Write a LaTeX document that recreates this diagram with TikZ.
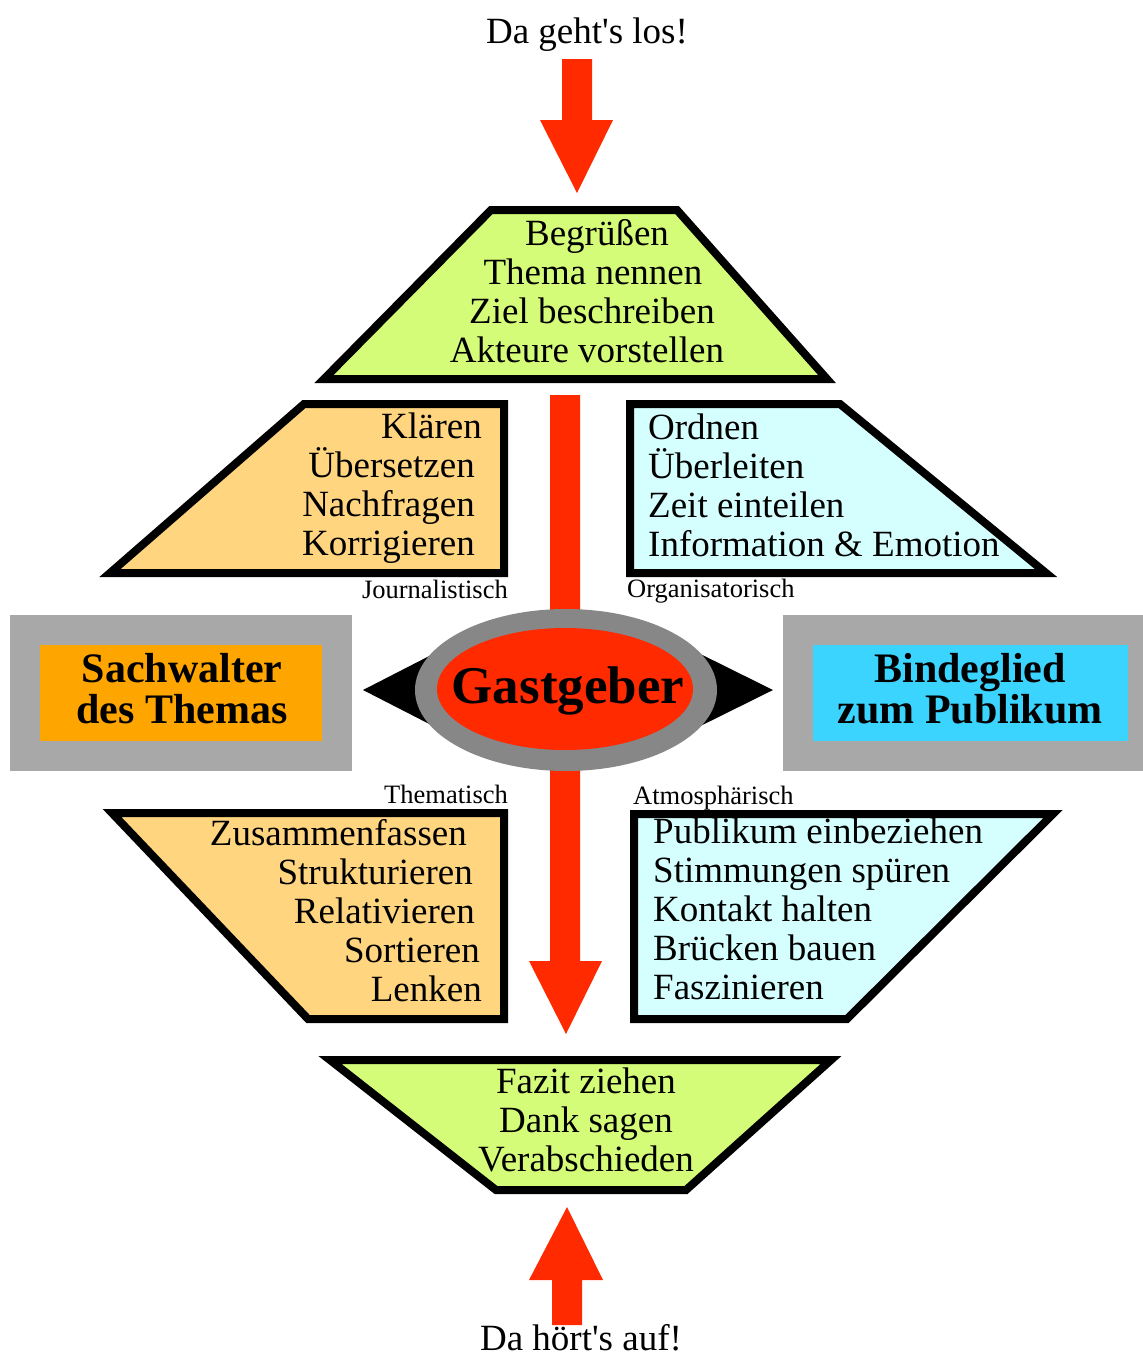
\documentclass[tikz,border=0pt]{standalone}
\usepackage{fontspec}
\setmainfont{Liberation Serif}
\definecolor{cLime}{HTML}{D5FC79}
\definecolor{cPeach}{HTML}{FFD57F}
\definecolor{cIce}{HTML}{D5FFFF}
\definecolor{cRed}{HTML}{FF2A00}
\definecolor{cEllGray}{HTML}{878787}
\definecolor{cBoxGray}{HTML}{A8A8A8}
\definecolor{cOrange}{HTML}{FFA500}
\definecolor{cBlue}{HTML}{3BD4FF}
\newcommand\rlines[1]{\vtop{\halign{\hfil##\cr#1\crcr}}}
\newcommand\llines[1]{\vtop{\halign{##\hfil\cr#1\crcr}}}
\newcommand\clines[1]{\vtop{\halign{\hfil##\hfil\cr#1\crcr}}}
\begin{document}
\begin{tikzpicture}[x=1pt,y=-1pt,
  trap/.style={draw=black,line width=8pt,line join=miter},
  blockarrow/.style={fill=cRed,draw=none},
  body/.style={font=\fontsize{37}{39}\selectfont,inner sep=0pt},
  small/.style={font=\fontsize{26.5}{30}\selectfont,inner sep=0pt},
  boldlbl/.style={font=\fontsize{42}{41}\selectfont\bfseries,inner sep=0pt},
  centre/.style={font=\fontsize{53}{60}\selectfont\bfseries,inner sep=0pt}]
\useasboundingbox (0,0) rectangle (1143,1358);

% block arrows
\fill[blockarrow] (562,59) -- (592,59) -- (592,120) -- (613,120) -- (577,193) -- (540,120) -- (562,120) -- cycle;
\fill[blockarrow] (550,395) -- (580,395) -- (580,961) -- (602,961) -- (566,1034) -- (529,961) -- (550,961) -- cycle;
\fill[blockarrow] (567,1207) -- (603,1280) -- (582,1280) -- (582,1325) -- (552,1325) -- (552,1280) -- (529,1280) -- cycle;

% trapezoids
\draw[trap,fill=cLime] (491,210) -- (677,210) -- (827,379) -- (324,379) -- cycle;
\draw[trap,fill=cPeach] (304,404) -- (504,404) -- (504,573) -- (110,573) -- cycle;
\draw[trap,fill=cIce] (630,404) -- (840,404) -- (1046,573) -- (630,573) -- cycle;
\draw[trap,fill=cPeach] (112,813) -- (504,813) -- (504,1019) -- (308,1019) -- cycle;
\draw[trap,fill=cIce] (634,814) -- (1053,814) -- (847,1019) -- (634,1019) -- cycle;
\draw[trap,fill=cLime] (330,1060) -- (831,1060) -- (686,1190) -- (496,1190) -- cycle;

% side boxes
\fill[cBoxGray] (10,615) rectangle (352,771);
\fill[cOrange] (40,645) rectangle (322,741);
\fill[cBoxGray] (783,615) rectangle (1143,771);
\fill[cBlue] (813,645) rectangle (1128,741);

% centre
\fill[black] (363,690) -- (480,630) -- (652,630) -- (773,690) -- (652,750) -- (480,750) -- cycle;
\fill[cEllGray] (566,690) ellipse [x radius=151, y radius=81];
\fill[cRed] (565,689) ellipse [x radius=128, y radius=61];

% texts
\node[body,anchor=base] (start) at (587,43) {Da geht\textquotesingle s los!};
\node[body,anchor=base] (stop) at (581,1350) {Da hört\textquotesingle s auf!};
\node[body,anchor=base] (opening) at (592,245) {\clines{\kern10pt Begrüßen\cr \kern2pt Thema nennen\cr Ziel beschreiben\cr Akteure vorstellen\kern10pt}};
\node[body,anchor=base east] (journ) at (482,438) {\rlines{Klären\cr Übersetzen\kern7pt\cr Nachfragen\kern7pt\cr Korrigieren\kern7pt}};
\node[body,anchor=base west] (orga) at (648,439) {\llines{Ordnen\cr Überleiten\cr Zeit einteilen\cr Information \& Emotion}};
\node[body,anchor=base east] (them) at (482,845) {\rlines{Zusammenfassen\kern15pt\cr Strukturieren\kern9pt\cr Relativieren\kern7pt\cr Sortieren\kern2pt\cr Lenken}};
\node[body,anchor=base west] (atmo) at (653,843) {\llines{Publikum einbeziehen\cr Stimmungen spüren\cr Kontakt halten\cr Brücken bauen\cr Faszinieren}};
\node[body,anchor=base] (closing) at (586,1093) {\clines{Fazit ziehen\cr Dank sagen\cr Verabschieden}};

\node[small,anchor=base east] (ljourn) at (508,598) {Journalistisch};
\node[small,anchor=base west] (lorga) at (627,597) {Organisatorisch};
\node[small,anchor=base east] (lthem) at (508,803) {Thematisch};
\node[small,anchor=base west] (latmo) at (633,804) {Atmosphärisch};

\node[centre,anchor=base] (host) at (568,703) {Gastgeber};
\node[boldlbl,anchor=base] (topic) at (182,682) {\clines{Sachwalter\cr des Themas}};
\node[boldlbl,anchor=base] (audience) at (970,682) {\clines{Bindeglied\cr zum Publikum}};
\end{tikzpicture}
\end{document}
